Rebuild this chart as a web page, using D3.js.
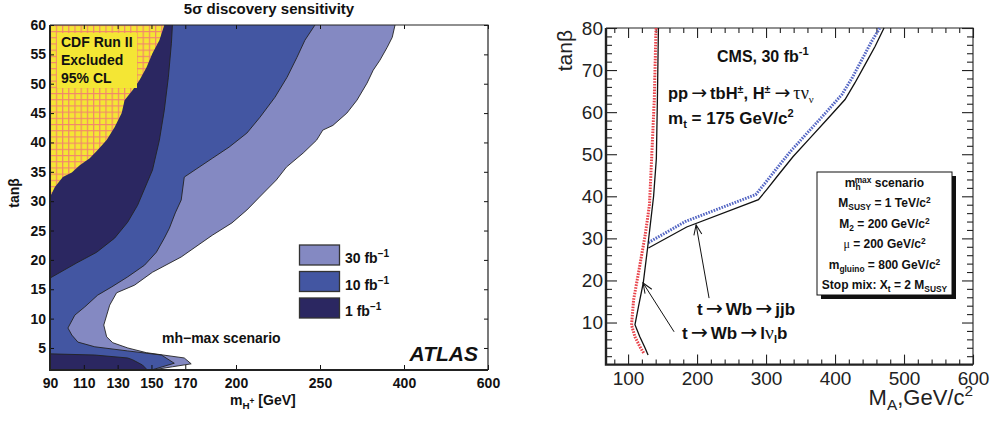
<!DOCTYPE html>
<html>
<head>
<meta charset="utf-8">
<script src="https://cdn.jsdelivr.net/npm/d3@7"></script>
<style>
body { margin: 0; background: #fff; }
svg { display: block; font-family: "Liberation Sans", Arial, Helvetica, sans-serif; }
</style>
</head>
<body>
<svg id="chart" width="993" height="421"></svg>
<script>
// ---------- left panel: ATLAS 5 sigma discovery reach ----------
var massTicks = [90, 110, 130, 150, 170, 200, 250, 400, 600];
var tanbTicksL = [5, 10, 15, 20, 25, 30, 35, 40, 45, 50, 55, 60];

// contour edges as [mH+, tanb]
var cdfEdge = [[157.6,60],[154.7,57.4],[150.6,55.2],[147.1,52.8],[142.9,50.6],[138.8,48.9],[134.1,47.2],[132.4,45.0],[128.2,42.6],[123.5,40.4],[118.2,38.7],[113.5,37.3],[107.6,36.1],[102.9,34.9],[97.6,34.1],[92.9,32.4],[90,30.7]];
var reach1Upper = [[162.4,60],[161.8,56.9],[160,51.1],[157.6,45.5],[154.7,40.4],[150.6,35.3],[141.8,29.3],[135.9,26.4],[128.2,23.7],[117.6,21.3],[105.9,19.5],[90,16.9]];
var reach1Lower = [[90,4.0],[116.5,3.8],[135.9,3.3],[138.8,3.0],[144.7,2.1],[147.6,1.25]];
var reach10 = [[247,60],[241,57.4],[236.3,54.5],[230.4,51.1],[223.2,47.7],[214.3,44.3],[206.5,41.6],[195.9,39.2],[186,37.3],[169.4,34.1],[167.6,30.2],[164.1,28.0],[160.6,25.4],[157.6,23.7],[152.9,21.3],[145.9,19.1],[135.9,17.1],[126.5,15.4],[118.2,14.0],[110.6,12.0],[104.7,10.6],[100.6,8.4],[102.9,7.2],[106.5,6.0],[116.5,5.2],[135.9,4.5],[155.9,3.8],[163.5,2.4],[150,1.25]];
var reach30 = [[384,60],[379,57.9],[370,56.2],[357,54.0],[345,52.3],[334,50.1],[316,47.2],[298,45.0],[273,42.9],[255,42.1],[248,40.4],[240,38.2],[230,35.8],[224,33.6],[214,30.7],[206.5,28.5],[197.6,26.3],[186,24.2],[167.6,20.5],[150.6,17.9],[140,15.7],[129.4,14.4],[125.3,12.3],[121.8,8.9],[123.5,6.9],[127.1,5.9],[136,5.0],[147,4.2],[169.4,3.3],[173.5,2.3],[162.4,1.8],[150.6,1.25]];

var lumiLabels = ["30", "10", "1"];
var lumiColors = ["#8489c2", "#4356a2", "#2b2761"];

// ---------- right panel: CMS 30 fb-1 ----------
var maTicks = [100, 200, 300, 400, 500, 600];
var maMinor = d3.range(80, 601, 20);
var tanbTicksR = [10, 20, 30, 40, 50, 60, 70, 80];
var tanbMinorR = d3.range(2, 81, 2);

var lnubSolid = [[144,80],[142.5,63],[141,49],[137,40],[128.5,28],[122,19.4],[115,13.7],[110,9.5],[117,6.6],[124,4.2],[129,2.3]];
var lnubDotted = [[140.5,80],[138,63],[134,48.5],[131,38],[125,31],[115,21.7],[108,15.4],[105,9.4],[110,6.6],[117,4.3],[123.5,2.5]];
var jjbSolid = [[129.5,27.7],[185,32.7],[289,39.2],[301,41.6],[316,44.7],[339,49.4],[364,53.9],[388,58.2],[414.5,63],[429,67],[443.5,71.3],[458,75.6],[471,80]];
var jjbDotted = [[129.5,29],[183,34],[285,40.4],[297,42.8],[312,45.9],[335,50.6],[360,55.1],[384,59.4],[410,64.2],[425,68.2],[439,72.5],[453,76.8],[465,80]];
var jjbArrow = [[217.4,15.8],[198.6,33.2]];
var lnubArrow = [[166.7,7.8],[121.7,19.4]];

var boxLines = [
  [{t:"m"},{t:"h",dy:3,fs:0.7},{t:"max",dy:-4,fs:0.7,dx:-6},{t:" scenario",dy:0}],
  [{t:"M"},{t:"SUSY",dy:3,fs:0.7},{t:" = 1 TeV/c",dy:0},{t:"2",dy:-4,fs:0.7}],
  [{t:"M"},{t:"2",dy:3,fs:0.7},{t:" = 200 GeV/c",dy:0},{t:"2",dy:-4,fs:0.7}],
  [{t:"\u03bc",fw:"normal",ff:"Liberation Serif"},{t:" = 200 GeV/c"},{t:"2",dy:-4,fs:0.7}],
  [{t:"m"},{t:"gluino",dy:3,fs:0.7},{t:" = 800 GeV/c",dy:0},{t:"2",dy:-4,fs:0.7}],
  [{t:"Stop mix: X"},{t:"t",dy:3,fs:0.7},{t:" = 2 M",dy:0},{t:"SUSY",dy:3,fs:0.7}]
];

var svg = d3.select("#chart");
var defs = svg.append("defs");

// text with sub/superscripts
function rich(g, x, y, parts, size) {
  var t = g.append("text").attr("x", x).attr("y", y).attr("font-size", size);
  var cur = 0;
  parts.forEach(function(p) {
    var off = p.dy || 0;
    var s = t.append("tspan").attr("dy", off - cur).attr("font-size", size * (p.fs || 1)).text(p.t);
    if (p.dx) s.attr("dx", p.dx);
    if (p.ff) s.attr("font-family", p.ff);
    if (p.fw) s.attr("font-weight", p.fw);
    cur = off;
  });
  return t;
}

// ===== LEFT =====
var xL = d3.scaleLinear().domain([90, 200, 250, 400, 600]).range([50, 236, 320, 404, 488]);
var yL = d3.scaleLinear().domain([1.25, 60]).range([370, 25]);
var lineL = d3.line().x(function(d){ return xL(d[0]); }).y(function(d){ return yL(d[1]); });

var pat = defs.append("pattern").attr("id", "cdfGrid").attr("patternUnits", "userSpaceOnUse")
  .attr("width", 6.2).attr("height", 6.2);
pat.append("rect").attr("width", 6.2).attr("height", 6.2).attr("fill", "#f4e634");
pat.append("path").attr("d", "M0,0.6H6.2M0.6,0V6.2").attr("stroke", "#f2866c").attr("stroke-width", 1.2);

defs.append("clipPath").attr("id", "clipL").append("rect")
  .attr("x", 50).attr("y", 25).attr("width", 438).attr("height", 345);

var gL = svg.append("g").attr("clip-path", "url(#clipL)");

gL.append("path").datum([[90,60]].concat(reach30, [[90,1.25]])).attr("d", lineL).attr("fill", lumiColors[0]);
gL.append("path").datum([[90,60]].concat(reach10, [[90,1.25]])).attr("d", lineL).attr("fill", lumiColors[1]);
gL.append("path").datum([[90,60]].concat(reach1Upper)).attr("d", lineL).attr("fill", lumiColors[2]);
gL.append("path").datum(reach1Lower.concat([[90,1.25]])).attr("d", lineL).attr("fill", lumiColors[2]);
[reach30, reach10, reach1Upper, reach1Lower].forEach(function(e) {
  gL.append("path").datum(e).attr("d", lineL).attr("fill", "none").attr("stroke", "#222").attr("stroke-width", 0.9);
});
gL.append("path").datum([[90,60]].concat(cdfEdge)).attr("d", lineL).attr("fill", "url(#cdfGrid)");
gL.append("rect").attr("x", 57).attr("y", 33).attr("width", 80).attr("height", 55).attr("fill", "#f4e634");

var cdfText = ["CDF Run II", "Excluded", "95% CL"];
svg.selectAll(".cdft").data(cdfText).enter().append("text")
  .attr("x", 61).attr("y", function(d, i){ return 47 + i * 18; })
  .attr("font-size", 14).attr("font-weight", "bold").attr("fill", "#111").text(function(d){ return d; });

// axes left
function clean(g) { g.select(".domain").remove(); g.selectAll(".tick line").attr("stroke", "#111"); }
svg.append("g").attr("transform", "translate(0,370)")
  .call(d3.axisBottom(xL).tickValues(massTicks).tickSize(-5).tickPadding(8).tickFormat(d3.format("d")))
  .call(clean)
  .selectAll("text").attr("font-size", 14).attr("font-weight", "bold").attr("fill", "#111").attr("font-family", null);
svg.append("g").attr("transform", "translate(0,25)")
  .call(d3.axisTop(xL).tickValues(massTicks).tickSize(-4).tickFormat(""))
  .call(clean);
svg.append("g").attr("transform", "translate(50,0)")
  .call(d3.axisLeft(yL).tickValues(tanbTicksL).tickSize(-4).tickPadding(4))
  .call(clean)
  .selectAll("text").attr("font-size", 14).attr("font-weight", "bold").attr("fill", "#111").attr("font-family", null);
svg.append("g").attr("transform", "translate(488,0)")
  .call(d3.axisRight(yL).tickValues(tanbTicksL).tickSize(-4).tickFormat(""))
  .call(clean);
svg.append("path").attr("d", "M50,25H488V370").attr("fill", "none").attr("stroke", "#222").attr("stroke-width", 1.2);
svg.append("path").attr("d", "M50,25V370H488").attr("fill", "none").attr("stroke", "#222").attr("stroke-width", 2);

svg.append("text").attr("x", 269).attr("y", 14).attr("text-anchor", "middle")
  .attr("font-size", 15).attr("font-weight", "bold").attr("fill", "#111").text("5\u03c3 discovery sensitivity");
svg.append("text").attr("transform", "translate(19,193) rotate(-90)").attr("text-anchor", "middle")
  .attr("font-size", 14).attr("font-weight", "bold").attr("fill", "#111").text("tan\u03b2");
rich(svg, 230, 405, [{t:"m"},{t:"H",dy:4,fs:0.7},{t:"+",dy:-1,fs:0.6},{t:" [GeV]",dy:0}], 14)
  .attr("font-weight", "bold").attr("fill", "#111");

// legend
var leg = svg.append("g");
lumiLabels.forEach(function(l, i) {
  var y0 = 245 + i * 26.5;
  leg.append("rect").attr("x", 299.5).attr("y", y0).attr("width", 40).attr("height", 20)
    .attr("fill", lumiColors[i]).attr("stroke", "#333").attr("stroke-width", 1.3);
  rich(leg, 345, y0 + 18, [{t:l + " fb"},{t:"\u22121",dy:-6,fs:0.72}], 14)
    .attr("font-weight", "bold").attr("fill", "#111");
});
svg.append("text").attr("x", 162).attr("y", 343).attr("font-size", 14).attr("font-weight", "bold")
  .attr("fill", "#111").text("mh\u2212max scenario");
svg.append("text").attr("x", 478).attr("y", 361).attr("text-anchor", "end").attr("font-size", 21)
  .attr("font-weight", "bold").attr("font-style", "italic").attr("fill", "#111").text("ATLAS");

// ===== RIGHT =====
var xR = d3.scaleLinear().domain([68, 600]).range([606, 973]);
var yR = d3.scaleLinear().domain([0, 80]).range([364.6, 28]);
var lineR = d3.line().x(function(d){ return xR(d[0]); }).y(function(d){ return yR(d[1]); });

var minorX = maMinor.filter(function(v){ return maTicks.indexOf(v) < 0; });
var minorY = tanbMinorR.filter(function(v){ return tanbTicksR.indexOf(v) < 0; });

function styleTicks(g) {
  g.select(".domain").remove();
  g.selectAll(".tick line").attr("stroke", "#222").attr("stroke-width", 1.1);
  g.selectAll("text").attr("font-size", 19).attr("fill", "#222").attr("font-family", null);
}
svg.append("g").attr("transform", "translate(0,364.6)")
  .call(d3.axisBottom(xR).tickValues(maTicks).tickSize(-10).tickPadding(7).tickFormat(d3.format("d"))).call(styleTicks);
svg.append("g").attr("transform", "translate(0,364.6)")
  .call(d3.axisBottom(xR).tickValues(minorX).tickSize(-5).tickFormat("")).call(styleTicks);
svg.append("g").attr("transform", "translate(0,28)")
  .call(d3.axisTop(xR).tickValues(maTicks).tickSize(-10).tickFormat("")).call(styleTicks);
svg.append("g").attr("transform", "translate(0,28)")
  .call(d3.axisTop(xR).tickValues(minorX).tickSize(-5).tickFormat("")).call(styleTicks);
svg.append("g").attr("transform", "translate(606,0)")
  .call(d3.axisLeft(yR).tickValues(tanbTicksR).tickSize(-11).tickPadding(3).tickFormat(d3.format("d"))).call(styleTicks);
svg.append("g").attr("transform", "translate(606,0)")
  .call(d3.axisLeft(yR).tickValues(minorY).tickSize(-6).tickFormat("")).call(styleTicks);
svg.append("g").attr("transform", "translate(973,0)")
  .call(d3.axisRight(yR).tickValues(tanbTicksR).tickSize(-11).tickFormat("")).call(styleTicks);
svg.append("g").attr("transform", "translate(973,0)")
  .call(d3.axisRight(yR).tickValues(minorY).tickSize(-6).tickFormat("")).call(styleTicks);
svg.append("path").attr("d", "M606,28H973V364.6").attr("fill", "none").attr("stroke", "#222").attr("stroke-width", 1.1);
svg.append("path").attr("d", "M606,28V364.6H973").attr("fill", "none").attr("stroke", "#222").attr("stroke-width", 2.4);

// curves
svg.append("path").datum(lnubDotted).attr("d", lineR).attr("fill", "none")
  .attr("stroke", "#e8434a").attr("stroke-width", 3).attr("stroke-dasharray", "1.6,1.2");
svg.append("path").datum(jjbDotted).attr("d", lineR).attr("fill", "none")
  .attr("stroke", "#5567c4").attr("stroke-width", 3).attr("stroke-dasharray", "1.6,1.2");
svg.append("path").datum(lnubSolid).attr("d", lineR).attr("fill", "none").attr("stroke", "#111").attr("stroke-width", 1.3);
svg.append("path").datum(jjbSolid).attr("d", lineR).attr("fill", "none").attr("stroke", "#111").attr("stroke-width", 1.3);

defs.append("marker").attr("id", "arr").attr("markerUnits", "userSpaceOnUse")
  .attr("viewBox", "-11 -6 12 12").attr("refX", 0).attr("refY", 0)
  .attr("markerWidth", 12).attr("markerHeight", 12).attr("orient", "auto")
  .append("path").attr("d", "M-10,-4L0,0L-10,4").attr("fill", "none").attr("stroke", "#111").attr("stroke-width", 1);
[jjbArrow, lnubArrow].forEach(function(a) {
  svg.append("path").datum(a).attr("d", lineR).attr("fill", "none").attr("stroke", "#111")
    .attr("stroke-width", 1).attr("marker-end", "url(#arr)");
});

function arrowSym(fs) { return {t:"\u2192", fw:"normal", ff:"DejaVu Sans", fs:fs, dx:3}; }
rich(svg, 697, 315, [{t:"t"}, arrowSym(1.2), {t:"Wb", dx:3}, arrowSym(1.2), {t:"jjb", dx:3}], 17)
  .attr("font-weight", "bold").attr("fill", "#111");
rich(svg, 682, 339, [{t:"t"}, arrowSym(1.2), {t:"Wb", dx:3}, arrowSym(1.2), {t:"l", dx:3},
  {t:"\u03bd", fw:"normal", ff:"Liberation Serif", fs:1.15}, {t:"l", dy:4, fs:0.65}, {t:"b", dy:0}], 17)
  .attr("font-weight", "bold").attr("fill", "#111");

rich(svg, 717, 62, [{t:"CMS, 30 fb"},{t:"-1",dy:-7,fs:0.7}], 16).attr("font-weight", "bold").attr("fill", "#111");
rich(svg, 668, 99, [{t:"pp"}, arrowSym(1.15), {t:"tbH", dx:3}, {t:"\u00b1",dy:-6,fs:0.65},
  {t:", H",dy:0}, {t:"\u00b1",dy:-6,fs:0.65}, {t:"\u2192", dy:0, dx:4, fw:"normal", ff:"DejaVu Sans", fs:1.15},
  {t:"\u03c4\u03bd", dx:3, fw:"normal", ff:"Liberation Serif", fs:1.1}, {t:"\u03bd", dy:4, fw:"normal", ff:"Liberation Serif", fs:0.65}], 16.5)
  .attr("font-weight", "bold").attr("fill", "#111");
rich(svg, 668, 124, [{t:"m"},{t:"t",dy:4,fs:0.65},{t:" = 175 GeV/c",dy:0},{t:"2",dy:-7,fs:0.65}], 17)
  .attr("font-weight", "bold").attr("fill", "#111");

// scenario box
var bx = 817, by = 172, bw = 135, bh = 123;
svg.append("rect").attr("x", bx + 4).attr("y", by + 4).attr("width", bw).attr("height", bh).attr("fill", "#111");
svg.append("rect").attr("x", bx).attr("y", by).attr("width", bw).attr("height", bh)
  .attr("fill", "#fff").attr("stroke", "#111").attr("stroke-width", 1);
boxLines.forEach(function(parts, i) {
  rich(svg, bx + bw / 2, 187 + i * 20.4, parts, 12).attr("text-anchor", "middle")
    .attr("font-weight", "bold").attr("fill", "#111");
});

svg.append("text").attr("transform", "translate(572,30) rotate(-90)").attr("text-anchor", "end")
  .attr("font-size", 21).attr("fill", "#222").text("tan\u03b2");
rich(svg, 973, 405, [{t:"M"},{t:"A",dy:5,fs:0.7},{t:",GeV/c",dy:0},{t:"2",dy:-9,fs:0.7}], 22)
  .attr("text-anchor", "end").attr("fill", "#222");
</script>
</body>
</html>
